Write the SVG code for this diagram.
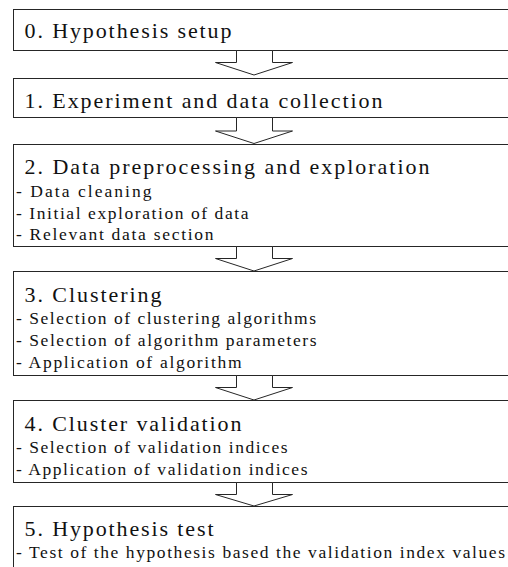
<svg xmlns="http://www.w3.org/2000/svg" width="508" height="567" viewBox="0 0 508 567">
  <style>
    .box { fill: #ffffff; stroke: #262626; stroke-width: 1; }
    .arrow { fill: #ffffff; stroke: #262626; stroke-width: 1; stroke-linejoin: miter; }
    text { font-family: 'Liberation Serif', 'Times New Roman', Times, 'DejaVu Serif', serif; fill: #111111; }
    .title { font-size: 22px; }
    .item { font-size: 17.5px; }
  </style>
  <rect width="508" height="567" fill="#ffffff"/>

  <!-- process steps -->
  <g id="step0">
    <rect class="box" x="13.5" y="9.5" width="506" height="41"/>
    <text class="title" x="24.5" y="37.5" textLength="207" lengthAdjust="spacing">0. Hypothesis setup</text>
  </g>
  <g id="step1">
    <rect class="box" x="13.5" y="78.5" width="506" height="39"/>
    <text class="title" x="24.5" y="107.5" textLength="358" lengthAdjust="spacing">1. Experiment and data collection</text>
  </g>
  <g id="step2">
    <rect class="box" x="13.5" y="144.5" width="506" height="102"/>
    <text class="title" x="24.5" y="173.5" textLength="405" lengthAdjust="spacing">2. Data preprocessing and exploration</text>
    <text class="item" x="16" y="197" textLength="135.5" lengthAdjust="spacing">- Data cleaning</text>
    <text class="item" x="16" y="218.7" textLength="232.5" lengthAdjust="spacing">- Initial exploration of data</text>
    <text class="item" x="16" y="240.3" textLength="197.5" lengthAdjust="spacing">- Relevant data section</text>
  </g>
  <g id="step3">
    <rect class="box" x="13.5" y="271.5" width="506" height="104"/>
    <text class="title" x="24.5" y="301.5" textLength="137" lengthAdjust="spacing">3. Clustering</text>
    <text class="item" x="16" y="323.5" textLength="300" lengthAdjust="spacing">- Selection of clustering algorithms</text>
    <text class="item" x="16" y="345.7" textLength="300.5" lengthAdjust="spacing">- Selection of algorithm parameters</text>
    <text class="item" x="16" y="367.9" textLength="225.5" lengthAdjust="spacing">- Application of algorithm</text>
  </g>
  <g id="step4">
    <rect class="box" x="13.5" y="400.5" width="506" height="82"/>
    <text class="title" x="24.5" y="430.5" textLength="217" lengthAdjust="spacing">4. Cluster validation</text>
    <text class="item" x="16" y="452.7" textLength="271.5" lengthAdjust="spacing">- Selection of validation indices</text>
    <text class="item" x="16" y="474.9" textLength="291.5" lengthAdjust="spacing">- Application of validation indices</text>
  </g>
  <g id="step5">
    <rect class="box" x="13.5" y="506.5" width="506" height="80"/>
    <text class="title" x="24.5" y="535.7" textLength="189" lengthAdjust="spacing">5. Hypothesis test</text>
    <text class="item" x="16" y="558" textLength="489" lengthAdjust="spacing">- Test of the hypothesis based the validation index values</text>
  </g>

  <!-- block arrows between steps -->
  <g id="connectors">
    <polygon class="arrow" points="236.5,50.5 236.5,62.5 215.5,62.5 254,75 292.5,62.5 272.5,62.5 272.5,50.5"/>
    <polygon class="arrow" points="236.5,117.5 236.5,131 215.5,131 254,143.5 292.5,131 272.5,131 272.5,117.5"/>
    <polygon class="arrow" points="236.5,246.5 236.5,258.5 215.5,258.5 254,271 292.5,258.5 272.5,258.5 272.5,246.5"/>
    <polygon class="arrow" points="236.5,375.5 236.5,387.5 215.5,387.5 254,400 292.5,387.5 272.5,387.5 272.5,375.5"/>
    <polygon class="arrow" points="236.5,482.5 236.5,494.5 215.5,494.5 254,506 292.5,494.5 272.5,494.5 272.5,482.5"/>
  </g>
</svg>
